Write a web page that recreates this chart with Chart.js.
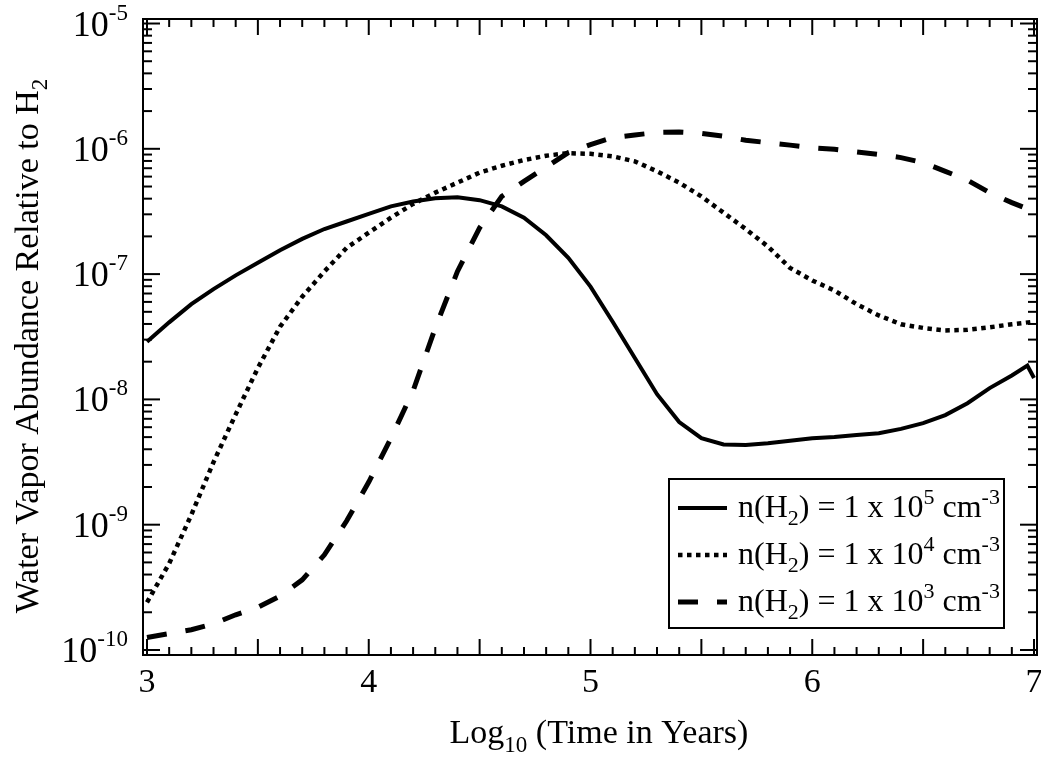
<!DOCTYPE html>
<html>
<head>
<meta charset="utf-8">
<script src="https://cdn.jsdelivr.net/npm/chart.js@4"></script>
<style>
  body { margin: 0; background: #fff; }
  #wrap { width: 1041px; height: 757px; }
</style>
</head>
<body>
<div id="wrap"><canvas id="water-vapor-chart" width="1041" height="757"></canvas></div>
<script>
// log10(time in years) for the 1e4 and 1e3 runs
var timeLog = [3.0, 3.1, 3.2, 3.3, 3.4, 3.5, 3.6, 3.7, 3.8, 3.9,
               4.0, 4.1, 4.2, 4.3, 4.4, 4.5, 4.6, 4.7, 4.8, 4.9,
               5.0, 5.1, 5.2, 5.3, 5.4, 5.5, 5.6, 5.7, 5.8, 5.9,
               6.0, 6.1, 6.2, 6.3, 6.4, 6.5, 6.6, 6.7, 6.8, 6.9, 7.0];
// the 1e5 run has one extra sample just before the end
var timeLogHigh = [3.0, 3.1, 3.2, 3.3, 3.4, 3.5, 3.6, 3.7, 3.8, 3.9,
                   4.0, 4.1, 4.2, 4.3, 4.4, 4.5, 4.6, 4.7, 4.8, 4.9,
                   5.0, 5.1, 5.2, 5.3, 5.4, 5.5, 5.6, 5.7, 5.8, 5.9,
                   6.0, 6.1, 6.2, 6.3, 6.4, 6.5, 6.6, 6.7, 6.8, 6.9, 6.97, 7.0];

var abundanceHigh = [2.88e-8, 4.12e-8, 5.75e-8, 7.59e-8, 9.77e-8, 1.23e-7, 1.55e-7, 1.91e-7, 2.29e-7, 2.63e-7,
                     3.02e-7, 3.47e-7, 3.80e-7, 4.03e-7, 4.10e-7, 3.89e-7, 3.47e-7, 2.82e-7, 2.04e-7, 1.35e-7,
                     7.94e-8, 4.17e-8, 2.14e-8, 1.10e-8, 6.6e-9, 4.9e-9, 4.37e-9, 4.32e-9, 4.47e-9, 4.68e-9,
                     4.9e-9, 5.0e-9, 5.19e-9, 5.37e-9, 5.82e-9, 6.46e-9, 7.5e-9, 9.33e-9, 1.23e-8, 1.55e-8, 1.86e-8, 1.48e-8];
var abundanceMid = [2.4e-10, 4.9e-10, 1.2e-9, 3.16e-9, 7.6e-9, 1.78e-8, 3.8e-8, 6.6e-8, 1.05e-7, 1.62e-7,
                    2.14e-7, 2.82e-7, 3.63e-7, 4.47e-7, 5.37e-7, 6.46e-7, 7.33e-7, 8.13e-7, 8.81e-7, 9.23e-7,
                    9.12e-7, 8.71e-7, 7.94e-7, 6.61e-7, 5.37e-7, 4.17e-7, 3.09e-7, 2.29e-7, 1.66e-7, 1.12e-7,
                    8.9e-8, 7.4e-8, 5.75e-8, 4.68e-8, 3.98e-8, 3.72e-8, 3.55e-8, 3.59e-8, 3.76e-8, 3.98e-8, 4.17e-8];
var abundanceLow = [1.26e-10, 1.35e-10, 1.45e-10, 1.62e-10, 1.91e-10, 2.19e-10, 2.69e-10, 3.63e-10, 5.75e-10, 1.07e-9,
                    2.19e-9, 4.9e-9, 1.17e-8, 3.72e-8, 1.05e-7, 2.34e-7, 4.17e-7, 5.5e-7, 7.16e-7, 9.33e-7,
                    1.08e-6, 1.23e-6, 1.29e-6, 1.35e-6, 1.36e-6, 1.33e-6, 1.26e-6, 1.17e-6, 1.12e-6, 1.07e-6,
                    1.02e-6, 9.9e-7, 9.44e-7, 9.02e-7, 8.51e-7, 7.76e-7, 6.61e-7, 5.62e-7, 4.47e-7, 3.72e-7, 3.16e-7];

var densityExponents = ['5', '4', '3'];
var xTickValues = [3, 4, 5, 6, 7];
var xTickLabels = ['3', '4', '5', '6', '7'];
var yTickValues = [1e-10, 1e-9, 1e-8, 1e-7, 1e-6, 1e-5];
var yTickExponents = ['-10', '-9', '-8', '-7', '-6', '-5'];

var FONT = '"Liberation Serif", "Times New Roman", serif';

function toPoints(xs, ys) {
  return xs.map(function (x, i) { return { x: x, y: ys[i] }; });
}

// draws a run of text pieces (for sub/superscripts) side by side
function drawRich(ctx, parts, x, y, align) {
  var width = 0;
  parts.forEach(function (p) {
    ctx.font = p.size + 'px ' + FONT;
    p.w = ctx.measureText(p.text).width;
    width += p.w;
  });
  var cx = x;
  if (align === 'right') cx = x - width;
  if (align === 'center') cx = x - width / 2;
  ctx.textAlign = 'left';
  ctx.textBaseline = 'alphabetic';
  parts.forEach(function (p) {
    ctx.font = p.size + 'px ' + FONT;
    ctx.fillText(p.text, cx, y + (p.shift || 0));
    cx += p.w;
  });
}

function line(ctx, x1, y1, x2, y2) {
  ctx.beginPath();
  ctx.moveTo(x1, y1);
  ctx.lineTo(x2, y2);
  ctx.stroke();
}

var framePlugin = {
  id: 'frame',
  afterDraw: function (chart) {
    var ctx = chart.ctx;
    var area = chart.chartArea;
    var xs = chart.scales.x;
    var ys = chart.scales.y;
    ctx.save();
    ctx.strokeStyle = '#000';
    ctx.fillStyle = '#000';
    ctx.lineWidth = 2;
    ctx.strokeRect(area.left, area.top, area.right - area.left, area.bottom - area.top);

    // x ticks, inward on top and bottom
    for (var i = 30; i <= 70; i++) {
      var px = xs.getPixelForValue(i / 10);
      var len = i % 5 === 0 ? 16 : 8;
      line(ctx, px, area.bottom, px, area.bottom - len);
      line(ctx, px, area.top, px, area.top + len);
    }
    // y ticks, inward on left and right
    yTickValues.forEach(function (v, k) {
      var py = ys.getPixelForValue(v);
      line(ctx, area.left, py, area.left + 17, py);
      line(ctx, area.right, py, area.right - 17, py);
      if (k === yTickValues.length - 1) return;
      for (var m = 2; m <= 9; m++) {
        var my = ys.getPixelForValue(m * v);
        line(ctx, area.left, my, area.left + 9, my);
        line(ctx, area.right, my, area.right - 9, my);
      }
    });

    // tick labels
    ctx.textAlign = 'center';
    ctx.textBaseline = 'alphabetic';
    ctx.font = '34px ' + FONT;
    xTickValues.forEach(function (v, k) {
      ctx.fillText(xTickLabels[k], xs.getPixelForValue(v), area.bottom + 37);
    });
    yTickValues.forEach(function (v, k) {
      var py = ys.getPixelForValue(v);
      drawRich(ctx, [
        { text: '10', size: 36 },
        { text: yTickExponents[k], size: 23, shift: -16 }
      ], area.left - 15, py + 12, 'right');
    });

    // axis titles
    drawRich(ctx, [
      { text: 'Log', size: 34 },
      { text: '10', size: 23, shift: 9 },
      { text: ' (Time in Years)', size: 34 }
    ], 599, area.bottom + 88, 'center');

    ctx.save();
    ctx.translate(38, 346);
    ctx.rotate(-Math.PI / 2);
    drawRich(ctx, [
      { text: 'Water Vapor Abundance Relative to H', size: 34 },
      { text: '2', size: 23, shift: 9 }
    ], 0, 0, 'center');
    ctx.restore();

    // legend box
    var bx = 669, by = 479, bw = 335, bh = 149;
    ctx.fillStyle = '#fff';
    ctx.fillRect(bx, by, bw, bh);
    ctx.strokeRect(bx, by, bw, bh);
    ctx.fillStyle = '#000';
    chart.data.datasets.forEach(function (ds, k) {
      var rowY = by + 29 + k * 47;
      ctx.save();
      ctx.lineWidth = ds.borderWidth;
      ctx.setLineDash(ds.borderDash || []);
      line(ctx, bx + 9, rowY, bx + 58, rowY);
      ctx.restore();
      drawRich(ctx, [
        { text: 'n(H', size: 32 },
        { text: '2', size: 22, shift: 8 },
        { text: ') = 1 x 10', size: 32 },
        { text: densityExponents[k], size: 22, shift: -13 },
        { text: ' cm', size: 32 },
        { text: '-3', size: 22, shift: -13 }
      ], bx + 69, rowY + 9, 'left');
    });
    ctx.restore();
  }
};

var ctx = document.getElementById('water-vapor-chart');

var waterVaporChart = new Chart(ctx, {
  type: 'line',
  data: {
    datasets: [
      {
        label: 'n(H2) = 1 x 10^5 cm^-3',
        data: toPoints(timeLogHigh, abundanceHigh),
        borderColor: '#000',
        borderWidth: 4,
        borderDash: [],
        pointRadius: 0,
        tension: 0,
        fill: false
      },
      {
        label: 'n(H2) = 1 x 10^4 cm^-3',
        data: toPoints(timeLog, abundanceMid),
        borderColor: '#000',
        borderWidth: 4.5,
        borderDash: [4.5, 4.5],
        pointRadius: 0,
        tension: 0,
        fill: false
      },
      {
        label: 'n(H2) = 1 x 10^3 cm^-3',
        data: toPoints(timeLog, abundanceLow),
        borderColor: '#000',
        borderWidth: 5,
        borderDash: [20, 19],
        pointRadius: 0,
        tension: 0,
        fill: false
      }
    ]
  },
  options: {
    responsive: false,
    animation: false,
    layout: { padding: { left: 143, right: 4, top: 19, bottom: 102 } },
    plugins: {
      legend: { display: false },
      tooltip: { enabled: false }
    },
    scales: {
      x: { type: 'linear', min: 2.982, max: 7.0135, display: false },
      y: { type: 'logarithmic', min: Math.pow(10, -10.04), max: Math.pow(10, -4.964), display: false }
    }
  },
  plugins: [framePlugin]
});
</script>
</body>
</html>
